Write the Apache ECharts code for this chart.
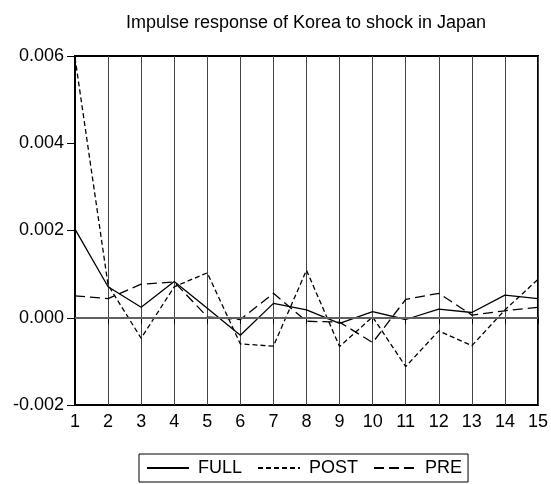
<!DOCTYPE html>
<html>
<head>
<meta charset="utf-8">
<script src="https://cdn.jsdelivr.net/npm/echarts@6/dist/echarts.min.js"></script>
<style>
  html, body { margin: 0; padding: 0; background: #fff; }
  #chart { width: 551px; height: 484px; }
</style>
</head>
<body>
<div id="chart"></div>
<script>
// periods after the shock
var periods = ['1', '2', '3', '4', '5', '6', '7', '8', '9', '10', '11', '12', '13', '14', '15'];

// responses
var fullData = [0.00203, 0.00071, 0.00024, 0.00083, 0.00022, -0.00040, 0.00033, 0.00018,
                -0.00013, 0.00014, -0.00004, 0.00020, 0.00012, 0.00052, 0.00044];
var postData = [0.00596, 0.00075, -0.00047, 0.00071, 0.00103, -0.00060, -0.00065, 0.00109,
                -0.00066, 0.00002, -0.00112, -0.00030, -0.00064, 0.00018, 0.00088];
var preData  = [0.00050, 0.00044, 0.00077, 0.00082, 0.00002, -0.00004, 0.00056, -0.00008,
                -0.00010, -0.00057, 0.00042, 0.00056, 0.00006, 0.00016, 0.00024];

var yTicks = [-0.002, 0.000, 0.002, 0.004, 0.006];

var chart = echarts.init(document.getElementById('chart'));
var font = 'Liberation Sans, Arial, sans-serif';

var option = {
    animation: false,
    title: {
        text: 'Impulse response of Korea to shock in Japan',
        left: 301,
        top: 9,
        textAlign: 'center',
        textStyle: { fontSize: 18, fontWeight: 'normal', color: '#000', fontFamily: font }
    },
    legend: {
        data: ['FULL', 'POST', 'PRE'],
        left: 139,
        top: 454,
        orient: 'horizontal',
        borderColor: '#000',
        borderWidth: 1,
        borderRadius: 0,
        padding: [5, 6, 5, 7],
        itemGap: 15,
        itemWidth: 42,
        itemHeight: 14,
        itemStyle: { opacity: 0 },
        textStyle: { fontSize: 18, color: '#000', fontFamily: font, padding: [0, 0, 0, 4] }
    },
    grid: {
        left: 75,
        right: 12,
        top: 56,
        bottom: 79,
        show: true,
        borderColor: '#000',
        borderWidth: 2
    },
    xAxis: {
        type: 'category',
        data: periods,
        boundaryGap: false,
        axisLine: { lineStyle: { color: '#000', width: 2 } },
        axisTick: { show: true, length: 6, inside: false, alignWithLabel: true, lineStyle: { color: '#000' } },
        axisLabel: { fontSize: 18, color: '#000', fontFamily: font, margin: 8 },
        splitLine: { show: true, lineStyle: { color: '#444', width: 1 } }
    },
    yAxis: {
        type: 'value',
        min: yTicks[0],
        max: yTicks[yTicks.length - 1],
        interval: 0.002,
        axisLine: { show: true, lineStyle: { color: '#000', width: 2 } },
        axisTick: { show: true, length: 8, lineStyle: { color: '#000' } },
        axisLabel: {
            fontSize: 18, color: '#000', fontFamily: font, margin: 11,
            formatter: function (v) { return v.toFixed(3); }
        },
        splitLine: { show: false }
    },
    series: [
        {
            name: 'FULL',
            type: 'line',
            data: fullData,
            symbol: 'none',
            itemStyle: { color: '#000' },
            lineStyle: { color: '#000', width: 1.3, type: 'solid' },
            markLine: {
                silent: true,
                symbol: 'none',
                label: { show: false },
                lineStyle: { color: '#808080', width: 1.5, type: 'solid' },
                data: [{ yAxis: 0 }]
            },
            z: 3
        },
        {
            name: 'POST',
            type: 'line',
            data: postData,
            symbol: 'none',
            itemStyle: { color: '#000' },
            lineStyle: { color: '#000', width: 1.3, type: [5, 3] },
            z: 3
        },
        {
            name: 'PRE',
            type: 'line',
            data: preData,
            symbol: 'none',
            itemStyle: { color: '#000' },
            lineStyle: { color: '#000', width: 1.3, type: [10, 5] },
            z: 3
        }
    ]
};

chart.setOption(option);
</script>
</body>
</html>
